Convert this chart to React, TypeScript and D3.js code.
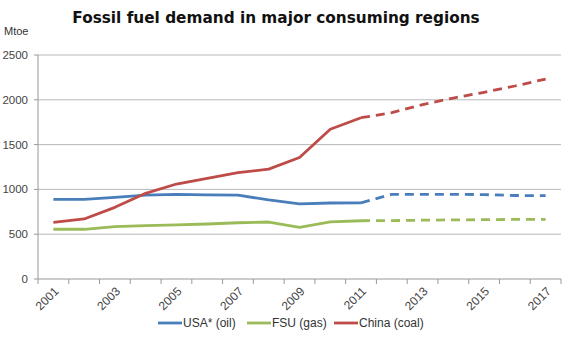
import React from "react";
import * as d3 from "d3";

const years = [2001, 2002, 2003, 2004, 2005, 2006, 2007, 2008, 2009, 2010, 2011, 2012, 2013, 2014, 2015, 2016, 2017];
const yTicks = [0, 500, 1000, 1500, 2000, 2500];
const xLabelYears = [2001, 2003, 2005, 2007, 2009, 2011, 2013, 2015, 2017];

// historical (2001-2011)
const usaHist = [889, 889, 910, 935, 945, 940, 935, 882, 838, 848, 850];
const fsuHist = [555, 555, 584, 595, 603, 614, 628, 636, 577, 638, 650];
const chinaHist = [633, 670, 800, 956, 1060, 1124, 1187, 1226, 1356, 1671, 1800];
// projections (2011-2017)
const usaProj = [850, 945, 945, 945, 942, 932, 930];
const fsuProj = [650, 652, 656, 660, 662, 665, 665];
const chinaProj = [1800, 1856, 1946, 2020, 2084, 2154, 2232];

const series = [
  { name: "USA* (oil)", color: "#4A7EBB", hist: usaHist, proj: usaProj },
  { name: "FSU (gas)", color: "#9BBB59", hist: fsuHist, proj: fsuProj },
  { name: "China (coal)", color: "#BE4B48", hist: chinaHist, proj: chinaProj },
];

const FONT = "'Liberation Sans', Arial, sans-serif";

export default function App() {
  const left = 38, right = 561, top = 55, bottom = 279;
  const xBand = d3.scaleBand<number>().domain(years).range([left, right]).padding(0);
  const xc = (yr: number) => (xBand(yr) as number) + xBand.bandwidth() / 2;
  const y = d3.scaleLinear().domain([0, 2500]).range([bottom, top]);
  const line = d3.line<[number, number]>().x(d => xc(d[0])).y(d => y(d[1]));

  const histYears = years.slice(0, 11);
  const projYears = years.slice(10);

  const boundaries = d3.range(years.length + 1).map(i => left + i * xBand.step());

  return (
    <svg width={580} height={353} style={{ position: "absolute", left: 0, top: 0, background: "#fff" }}>
      <text x={276} y={23} textAnchor="middle" fontFamily="'DejaVu Sans', Verdana, sans-serif" fontWeight="bold" fontSize={15.3} fill="#111">
        Fossil fuel demand in major consuming regions
      </text>
      <text x={4} y={35} fontFamily={FONT} fontSize={11} fill="#333">Mtoe</text>

      {yTicks.map(t => (
        <g key={t}>
          {t > 0 && <line x1={left} x2={right} y1={y(t)} y2={y(t)} stroke="#b8b8b8" strokeWidth={1} />}
          <line x1={left - 4} x2={left} y1={y(t)} y2={y(t)} stroke="#999" />
          <text x={28} y={y(t) + 4} textAnchor="end" fontFamily={FONT} fontSize={11.5} fill="#444">{t}</text>
        </g>
      ))}
      <line x1={left} x2={left} y1={top} y2={bottom} stroke="#999" />
      <line x1={left} x2={right} y1={bottom} y2={bottom} stroke="#999" />
      {boundaries.map((bx, i) => (
        <line key={i} x1={bx} x2={bx} y1={bottom} y2={bottom + 5} stroke="#999" />
      ))}
      {xLabelYears.map(yr => (
        <text key={yr} transform={`translate(${xc(yr) + 6},${292}) rotate(-45)`} textAnchor="end" fontFamily={FONT} fontSize={12} fill="#444">
          {yr}
        </text>
      ))}

      {series.map(s => (
        <g key={s.name}>
          <path d={line(histYears.map((yr, i) => [yr, s.hist[i]] as [number, number])) as string} fill="none" stroke={s.color} strokeWidth={2.8} strokeLinejoin="round" />
          <path d={line(projYears.map((yr, i) => [yr, s.proj[i]] as [number, number])) as string} fill="none" stroke={s.color} strokeWidth={2.8} strokeDasharray="9,6" />
        </g>
      ))}

      {series.map((s, i) => {
        const lx = [158, 247, 334][i];
        return (
          <g key={s.name}>
            <line x1={lx} x2={lx + 24} y1={323} y2={323} stroke={s.color} strokeWidth={2.8} />
            <text x={lx + 25} y={327} fontFamily={FONT} fontSize={12} fill="#333">{s.name}</text>
          </g>
        );
      })}
    </svg>
  );
}
